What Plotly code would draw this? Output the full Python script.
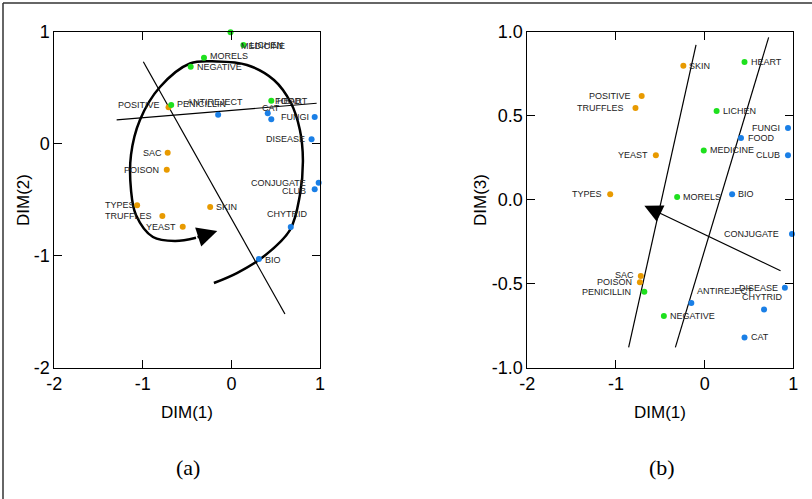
import plotly.graph_objects as go

# ---- data -------------------------------------------------------------
names = ["MEDICINE", "LICHEN", "MORELS", "NEGATIVE", "PENICILLIN", "POSITIVE",
         "ANTIREJECT", "HEART", "FOOD", "CAT", "FUNGI", "DISEASE", "SAC",
         "POISON", "TYPES", "TRUFFLES", "YEAST", "SKIN", "CONJUGATE", "CLUB",
         "CHYTRID", "BIO"]
groups = ["g", "g", "g", "g", "g", "o",
          "b", "g", "b", "b", "b", "b", "o",
          "o", "o", "o", "o", "o", "b", "b",
          "b", "b"]
dim1 = [-0.01, 0.135, -0.31, -0.46, -0.68, -0.71,
        -0.15, 0.45, 0.41, 0.45, 0.94, 0.905, -0.72,
        -0.73, -1.065, -0.78, -0.55, -0.24, 0.985, 0.94,
        0.67, 0.31]
dim2 = [0.995, 0.881, 0.768, 0.688, 0.346, 0.325,
        0.259, 0.384, 0.271, 0.218, 0.238, 0.039, -0.080,
        -0.232, -0.55, -0.646, -0.741, -0.565, -0.348, -0.407,
        -0.744, -1.029]
dim3 = [0.293, 0.528, 0.016, -0.692, -0.548, 0.617,
        -0.615, 0.820, 0.367, -0.820, 0.427, -0.524, -0.454,
        -0.492, 0.032, 0.546, 0.264, 0.798, -0.204, 0.264,
        -0.653, 0.032]

x_ticks = [-2, -1, 0, 1]
x_ticktext = ["-2", "-1", "0", "1"]
y2_ticks = [-2, -1, 0, 1]
y2_ticktext = ["-2", "-1", "0", "1"]
y3_ticks = [-1.0, -0.5, 0.0, 0.5, 1.0]
y3_ticktext = ["-1.0", "-0.5", "0.0", "0.5", "1.0"]

# interpretive lines, panel (a)
line_a1_x = [-1.296, 0.962]
line_a1_y = [0.212, 0.361]
line_a2_x = [-0.995, 0.604]
line_a2_y = [0.732, -1.52]
# spiral path, panel (a)
spiral_x = [-0.198, 0.062, 0.356, 0.660, 0.773, 0.807, 0.773, 0.672, 0.480,
            0.175, -0.164, -0.468, -0.807, -1.033, -1.134, -1.134, -1.078,
            -0.886, -0.638, -0.40]
spiral_y = [-1.244, -1.155, -1.012, -0.771, -0.458, -0.146, 0.122, 0.363,
            0.569, 0.703, 0.734, 0.716, 0.506, 0.212, -0.100, -0.413,
            -0.636, -0.833, -0.869, -0.84]
spiral_tip = (-0.16, -0.78)

# interpretive lines, panel (b)
line_b1_x = [-0.097, -0.857]
line_b1_y = [0.921, -0.879]
line_b2_x = [0.722, -0.330]
line_b2_y = [0.966, -0.879]
arrow_b_tail = (0.873, -0.427)
arrow_b_tip = (-0.680, -0.036)

# ---- styles -----------------------------------------------------------
colors = {"o": "#E89A00", "g": "#1EE01E", "b": "#1A7FE6"}
FONT = "Liberation Sans, Arial, sans-serif"

# label placement: (xanchor, xshift px, yshift px)
place_a = {
    "MEDICINE": ("left", 8, -14), "LICHEN": ("left", 5, 0),
    "MORELS": ("left", 4, 2), "NEGATIVE": ("left", 4, 0),
    "POSITIVE": ("right", -7, 2), "PENICILLIN": ("left", 4, 1),
    "ANTIREJECT": ("center", -3, 13), "HEART": ("left", 4, 0),
    "FOOD": ("left", 5, 12), "CAT": ("center", 0, 11),
    "FUNGI": ("right", -4, 0), "DISEASE": ("right", -5, 0),
    "SAC": ("right", -4, 0), "POISON": ("right", -6, 0),
    "TYPES": ("right", 0, 0), "TRUFFLES": ("right", -8, 0),
    "YEAST": ("right", -5, 0), "SKIN": ("left", 4, 0),
    "CONJUGATE": ("right", -11, 0), "CLUB": ("right", -7, -2),
    "CHYTRID": ("center", -3, 13), "BIO": ("left", 4, -1),
}
place_b = {
    "SKIN": ("left", 4, 0), "HEART": ("left", 4, 0),
    "POSITIVE": ("right", -9, 0), "TRUFFLES": ("right", -9, 0),
    "LICHEN": ("left", 4, 0), "FUNGI": ("right", -6, 0),
    "FOOD": ("left", 5, 0), "MEDICINE": ("left", 4, 0),
    "CLUB": ("right", -6, 0), "YEAST": ("right", -6, 0),
    "TYPES": ("right", -6, 0), "MORELS": ("left", 4, 0),
    "BIO": ("left", 4, 0), "CONJUGATE": ("right", -11, 0),
    "SAC": ("right", -5, 1), "POISON": ("right", -6, 0),
    "PENICILLIN": ("right", -11, 0), "ANTIREJECT": ("left", 4, 12),
    "DISEASE": ("right", -5, 0), "CHYTRID": ("center", -2, 12),
    "NEGATIVE": ("left", 4, 0), "CAT": ("left", 4, 0),
}

fig = go.Figure()


def add_points(xs, ys, xa, ya):
    for key in ["o", "g", "b"]:
        px = [x for x, g in zip(xs, groups) if g == key]
        py = [y for y, g in zip(ys, groups) if g == key]
        fig.add_trace(go.Scatter(
            x=px, y=py, mode="markers", xaxis=xa, yaxis=ya,
            marker=dict(size=6, color=colors[key]),
            cliponaxis=False, hoverinfo="skip", showlegend=False))


def add_line(xs, ys, xa, ya, width=1.2, shape="linear"):
    fig.add_trace(go.Scatter(
        x=xs, y=ys, mode="lines", xaxis=xa, yaxis=ya,
        line=dict(color="black", width=width, shape=shape, smoothing=1.0),
        hoverinfo="skip", showlegend=False))


def add_labels(xs, ys, xref, yref, place):
    for n, x, y in zip(names, xs, ys):
        anc, dx, dy = place[n]
        fig.add_annotation(
            x=x, y=y, xref=xref, yref=yref, text=n, showarrow=False,
            xanchor=anc, yanchor="middle", xshift=dx, yshift=dy,
            font=dict(family=FONT, size=9, color="#222222"))


# panel (a): DIM(1) vs DIM(2)
add_line(line_a1_x, line_a1_y, "x", "y")
add_line(line_a2_x, line_a2_y, "x", "y")
add_line(spiral_x, spiral_y, "x", "y", width=2.5, shape="spline")
fig.add_annotation(x=spiral_tip[0], y=spiral_tip[1], ax=spiral_x[-1], ay=spiral_y[-1],
                   xref="x", yref="y", axref="x", ayref="y", text="",
                   showarrow=True, arrowhead=2, arrowsize=1.6, arrowwidth=2.5,
                   arrowcolor="black")
add_points(dim1, dim2, "x", "y")
add_labels(dim1, dim2, "x", "y", place_a)

# panel (b): DIM(1) vs DIM(3)
add_line(line_b1_x, line_b1_y, "x2", "y2")
add_line(line_b2_x, line_b2_y, "x2", "y2")
fig.add_annotation(x=arrow_b_tip[0], y=arrow_b_tip[1], ax=arrow_b_tail[0], ay=arrow_b_tail[1],
                   xref="x2", yref="y2", axref="x2", ayref="y2", text="",
                   showarrow=True, arrowhead=2, arrowsize=3.0, arrowwidth=1.2,
                   arrowcolor="black")
add_points(dim1, dim3, "x2", "y2")
add_labels(dim1, dim3, "x2", "y2", place_b)

W, H = 812, 499
axis_common = dict(
    showgrid=False, zeroline=False, showline=True, linecolor="black",
    linewidth=1, mirror="ticks", ticks="inside", ticklen=8, tickcolor="black",
    tickfont=dict(family=FONT, size=18, color="black"), automargin=False,
)
top = 1 - 31.7 / H
bottom = 1 - 367.7 / H

fig.update_layout(
    width=W, height=H, margin=dict(l=0, r=0, t=0, b=0, pad=0),
    paper_bgcolor="white", plot_bgcolor="white", showlegend=False,
    xaxis=dict(domain=[54.3 / W, 320 / W], range=[-2, 1], anchor="y",
               tickvals=x_ticks, ticktext=x_ticktext, **axis_common),
    yaxis=dict(domain=[bottom, top], range=[-2, 1], anchor="x",
               tickvals=y2_ticks, ticktext=y2_ticktext, **axis_common),
    xaxis2=dict(domain=[527.3 / W, 793.3 / W], range=[-2, 1], anchor="y2",
                tickvals=x_ticks, ticktext=x_ticktext, **axis_common),
    yaxis2=dict(domain=[bottom, top], range=[-1, 1], anchor="x2",
                tickvals=y3_ticks, ticktext=y3_ticktext, **axis_common),
)


def paper_text(px, py, text, font, angle=0):
    fig.add_annotation(x=px / W, y=1 - py / H, xref="paper", yref="paper",
                       xanchor="center", yanchor="middle", text=text,
                       showarrow=False, textangle=angle, font=font)


# axis titles and panel captions
title_font = dict(family=FONT, size=17, color="black")
paper_text(187, 412, "DIM(1)", title_font)
paper_text(660, 412, "DIM(1)", title_font)
paper_text(24, 200, "DIM(2)", title_font, -90)
paper_text(481, 200, "DIM(3)", title_font, -90)
cap_font = dict(family="Liberation Serif, Times New Roman, serif", size=22, color="black")
paper_text(188, 467, "(a)", cap_font)
paper_text(662, 467, "(b)", cap_font)

# outer frame (top and left edges)
fig.add_shape(type="line", xref="paper", yref="paper", x0=3 / W, x1=1, y0=1 - 3 / H, y1=1 - 3 / H,
              line=dict(color="#333333", width=1.5))
fig.add_shape(type="line", xref="paper", yref="paper", x0=3 / W, x1=3 / W, y0=0, y1=1 - 3 / H,
              line=dict(color="#333333", width=1.5))

fig.write_html("out.html")
